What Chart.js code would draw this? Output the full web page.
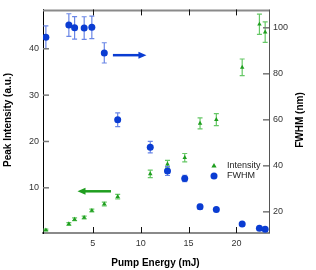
<!DOCTYPE html>
<html>
<head>
<meta charset="utf-8">
<script src="https://cdn.jsdelivr.net/npm/chart.js@4.4.1/dist/chart.umd.min.js"></script>
<style>
  html, body { margin: 0; padding: 0; background: #fff; }
  #wrap { width: 316px; height: 270px; }
</style>
</head>
<body>
<div id="wrap"><canvas id="chart"></canvas></div>
<script>
// pump energy (mJ), shared by both series
const energy = [0.1, 2.5, 3.1, 4.1, 4.9, 6.2, 7.6, 11.0, 12.8, 14.6, 16.2, 17.9, 20.6, 22.4, 23.0];

// peak intensity (a.u.), left axis
const intensity = [0.9, 2.2, 3.2, 3.6, 5.1, 6.5, 8.1, 13.0, 15.1, 16.5, 23.9, 24.7, 36.0, 45.3, 43.6];
const intensityErr = [0.2, 0.3, 0.3, 0.3, 0.3, 0.4, 0.5, 0.8, 0.8, 0.9, 1.2, 1.3, 1.8, 2.2, 2.2];

// FWHM (nm), right axis
const fwhm = [95.9, 101.2, 100.0, 99.9, 100.2, 89.1, 60.0, 48.1, 37.8, 34.5, 22.2, 21.0, 14.7, 12.9, 12.4];
const fwhmErr = [4.9, 4.9, 4.9, 4.9, 4.9, 4.4, 3.0, 2.5, 2.0, 1.4, 1.0, 0.6, 0.5, 0.3, 0.3];

const xTicks = [5, 10, 15, 20];
const yTicks = [10, 20, 30, 40];
const y2Ticks = [20, 40, 60, 80, 100];

// arrows: [x from, x to, y] in data units
const greenArrow = [6.9, 3.4, 9.25];
const blueArrow = [7.1, 10.6, 88.1];

const GREEN = '#1f9e1f';
const GREEN_ERR = '#66c866';
const BLUE = '#0a3cd2';
const BLUE_ERR = '#6a86e6';
const FONT = 'Liberation Sans, Arial, Helvetica, sans-serif';

const toPoints = (ys) => energy.map((x, i) => ({ x: x, y: ys[i] }));

const errorBars = {
    id: 'errorBars',
    beforeDatasetsDraw(chart) {
        const ctx = chart.ctx;
        const xs = chart.scales.x;
        chart.data.datasets.forEach(ds => {
            const ys = chart.scales[ds.yAxisID];
            ctx.save();
            ctx.strokeStyle = ds.errColor;
            ctx.lineWidth = 1.2;
            ds.data.forEach((p, i) => {
                const e = ds.errors[i];
                const px = xs.getPixelForValue(p.x);
                const top = ys.getPixelForValue(p.y + e);
                const bot = ys.getPixelForValue(p.y - e);
                ctx.beginPath();
                ctx.moveTo(px, top); ctx.lineTo(px, bot);
                ctx.moveTo(px - 2.5, top); ctx.lineTo(px + 2.5, top);
                ctx.moveTo(px - 2.5, bot); ctx.lineTo(px + 2.5, bot);
                ctx.stroke();
            });
            ctx.restore();
        });
    }
};

function drawArrow(ctx, x1, x2, y, color) {
    const dir = x2 > x1 ? 1 : -1;
    ctx.save();
    ctx.strokeStyle = color;
    ctx.fillStyle = color;
    ctx.lineWidth = 2.5;
    ctx.beginPath();
    ctx.moveTo(x1, y);
    ctx.lineTo(x2 - dir * 5, y);
    ctx.stroke();
    ctx.beginPath();
    ctx.moveTo(x2, y);
    ctx.lineTo(x2 - dir * 8, y - 3.5);
    ctx.lineTo(x2 - dir * 8, y + 3.5);
    ctx.closePath();
    ctx.fill();
    ctx.restore();
}

const decorations = {
    id: 'decorations',
    afterDraw(chart) {
        const ctx = chart.ctx;
        const a = chart.chartArea;
        const xs = chart.scales.x, ys = chart.scales.y, y2 = chart.scales.y2;
        ctx.save();

        // frame
        ctx.lineWidth = 2;
        ctx.strokeStyle = '#8a8a8a';
        ctx.beginPath();
        ctx.moveTo(a.left, a.top + 1); ctx.lineTo(a.right, a.top + 1);
        ctx.stroke();
        ctx.lineWidth = 1;
        ctx.strokeStyle = '#555';
        ctx.beginPath();
        ctx.moveTo(a.right + 0.5, a.top); ctx.lineTo(a.right + 0.5, a.bottom);
        ctx.stroke();

        // inward ticks
        ctx.lineWidth = 1;
        ctx.strokeStyle = '#111';
        xTicks.forEach(v => {
            const px = Math.round(xs.getPixelForValue(v)) + 0.5;
            ctx.beginPath();
            ctx.moveTo(px, a.bottom); ctx.lineTo(px, a.bottom - 6);
            ctx.moveTo(px, a.top); ctx.lineTo(px, a.top + 6);
            ctx.stroke();
        });
        ctx.strokeStyle = '#777';
        ctx.lineWidth = 1.5;
        yTicks.forEach(v => {
            const py = ys.getPixelForValue(v);
            ctx.beginPath();
            ctx.moveTo(a.left, py); ctx.lineTo(a.left + 6, py);
            ctx.stroke();
        });
        y2Ticks.forEach(v => {
            const py = y2.getPixelForValue(v);
            ctx.beginPath();
            ctx.moveTo(a.right, py); ctx.lineTo(a.right - 6, py);
            ctx.stroke();
        });

        // arrows
        drawArrow(ctx, xs.getPixelForValue(greenArrow[0]), xs.getPixelForValue(greenArrow[1]),
            ys.getPixelForValue(greenArrow[2]), GREEN);
        drawArrow(ctx, xs.getPixelForValue(blueArrow[0]), xs.getPixelForValue(blueArrow[1]),
            y2.getPixelForValue(blueArrow[2]), BLUE);

        // legend
        const ds = chart.data.datasets;
        ctx.fillStyle = GREEN;
        ctx.beginPath();
        ctx.moveTo(214, 163); ctx.lineTo(216.6, 167.5); ctx.lineTo(211.4, 167.5);
        ctx.closePath(); ctx.fill();
        ctx.fillStyle = BLUE;
        ctx.beginPath();
        ctx.arc(214, 176, 3.5, 0, Math.PI * 2);
        ctx.fill();
        ctx.fillStyle = '#222';
        ctx.font = '9px ' + FONT;
        ctx.textBaseline = 'middle';
        ctx.textAlign = 'left';
        ctx.fillText(ds[0].label, 227, 165.5);
        ctx.fillText(ds[1].label, 227, 176);

        // axis titles
        ctx.fillStyle = '#000';
        ctx.font = 'bold 10px ' + FONT;
        ctx.textAlign = 'center';
        ctx.fillText('Pump Energy (mJ)', 155.5, 263);
        ctx.save();
        ctx.translate(8, 120);
        ctx.rotate(-Math.PI / 2);
        ctx.fillText('Peak Intensity (a.u.)', 0, 0);
        ctx.restore();
        ctx.save();
        ctx.translate(300, 120);
        ctx.rotate(-Math.PI / 2);
        ctx.fillText('FWHM (nm)', 0, 0);
        ctx.restore();

        ctx.restore();
    }
};

const tickFont = { family: FONT, size: 9 };

new Chart(document.getElementById('chart'), {
    type: 'scatter',
    data: {
        datasets: [{
            label: 'Intensity',
            data: toPoints(intensity),
            errors: intensityErr,
            errColor: GREEN_ERR,
            yAxisID: 'y',
            pointStyle: 'triangle',
            pointRadius: 2.6,
            backgroundColor: GREEN,
            borderWidth: 0,
        }, {
            label: 'FWHM',
            data: toPoints(fwhm),
            errors: fwhmErr,
            errColor: BLUE_ERR,
            yAxisID: 'y2',
            pointStyle: 'circle',
            pointRadius: 3.5,
            backgroundColor: BLUE,
            borderWidth: 0,
        }],
    },
    options: {
        responsive: true,
        maintainAspectRatio: false,
        animation: false,
        layout: { padding: { top: 7, left: 0, right: 0, bottom: 0 } },
        plugins: {
            legend: { display: false },
            tooltip: { enabled: false },
        },
        scales: {
            x: {
                type: 'linear',
                min: -0.2,
                max: 23.4,
                afterBuildTicks: (s) => { s.ticks = xTicks.map(v => ({ value: v })); },
                afterFit: (s) => { s.height = 37; },
                grid: { display: false, drawTicks: false },
                border: { display: true, color: '#8a8a8a', width: 2 },
                ticks: { font: tickFont, color: '#333', padding: 5 },
            },
            y: {
                type: 'linear',
                position: 'left',
                min: 0.25,
                max: 48.5,
                afterBuildTicks: (s) => { s.ticks = yTicks.map(v => ({ value: v })); },
                afterFit: (s) => { s.width = 43; },
                grid: { display: false, drawTicks: false },
                border: { display: true, color: '#000', width: 1 },
                ticks: { font: tickFont, color: '#333', padding: 4 },
            },
            y2: {
                type: 'linear',
                position: 'right',
                min: 10.8,
                max: 108,
                afterBuildTicks: (s) => { s.ticks = y2Ticks.map(v => ({ value: v })); },
                afterFit: (s) => { s.width = 47; },
                grid: { display: false, drawTicks: false },
                border: { display: false },
                ticks: { font: tickFont, color: '#333', padding: 4 },
            },
        },
    },
    plugins: [errorBars, decorations],
});
</script>
</body>
</html>
